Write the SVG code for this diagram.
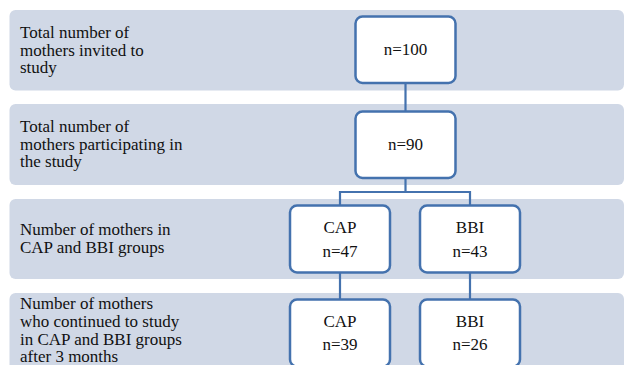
<svg xmlns="http://www.w3.org/2000/svg" width="626" height="365" viewBox="0 0 626 365">
<style>
.band{fill:#d0d8e6;}
.box{fill:#ffffff;stroke:#4472ae;stroke-width:2.5;}
.conn{fill:none;stroke:#4472ae;stroke-width:2.2;}
text{font-family:"Liberation Serif","Times New Roman",serif;font-size:17px;fill:#111;}
.c{text-anchor:middle;}
</style>
<rect width="626" height="365" fill="#ffffff"/>
<g id="bands">
<g id="band1"><rect class="band" x="9.5" y="10" width="614.5" height="80.5" rx="6"/>
<text x="20" y="37.7">Total number of</text><text x="20" y="55.5">mothers invited to</text><text x="20" y="73.3">study</text></g>
<g id="band2"><rect class="band" x="9.5" y="104" width="614.5" height="81" rx="6"/>
<text x="20" y="131.7">Total number of</text><text x="20" y="149.5">mothers participating in</text><text x="20" y="167.3">the study</text></g>
<g id="band3"><rect class="band" x="9.5" y="199" width="614.5" height="80" rx="6"/>
<text x="20" y="235">Number of mothers in</text><text x="20" y="252.7">CAP and BBI groups</text></g>
<g id="band4"><rect class="band" x="9.5" y="293" width="614.5" height="90" rx="6"/>
<text x="20" y="309">Number of mothers</text><text x="20" y="326.8">who continued to study</text><text x="20" y="344.6">in CAP and BBI groups</text><text x="20" y="362.4">after 3 months</text></g>
</g>
<g id="connectors">
<path class="conn" d="M405.5 83V111"/>
<path class="conn" d="M405.5 178V192M340 205V192H470V205"/>
<path class="conn" d="M340 273V299"/>
<path class="conn" d="M470 273V299"/>
</g>
<g id="n100"><rect class="box" x="355.5" y="16.5" width="100" height="66.5" rx="7"/><text class="c" x="405.5" y="55">n=100</text></g>
<g id="n90"><rect class="box" x="355.5" y="111.5" width="100" height="66.5" rx="7"/><text class="c" x="405.5" y="150">n=90</text></g>
<g id="cap47"><rect class="box" x="290" y="205.5" width="100" height="67" rx="7"/><text class="c" x="340" y="233.3">CAP</text><text class="c" x="340" y="256.7">n=47</text></g>
<g id="bbi43"><rect class="box" x="420" y="205.5" width="100" height="67" rx="7"/><text class="c" x="470" y="233.3">BBI</text><text class="c" x="470" y="256.7">n=43</text></g>
<g id="cap39"><rect class="box" x="290" y="299.5" width="100" height="67" rx="7"/><text class="c" x="340" y="326.7">CAP</text><text class="c" x="340" y="350">n=39</text></g>
<g id="bbi26"><rect class="box" x="420" y="299.5" width="100" height="67" rx="7"/><text class="c" x="470" y="326.7">BBI</text><text class="c" x="470" y="350">n=26</text></g>
</svg>
